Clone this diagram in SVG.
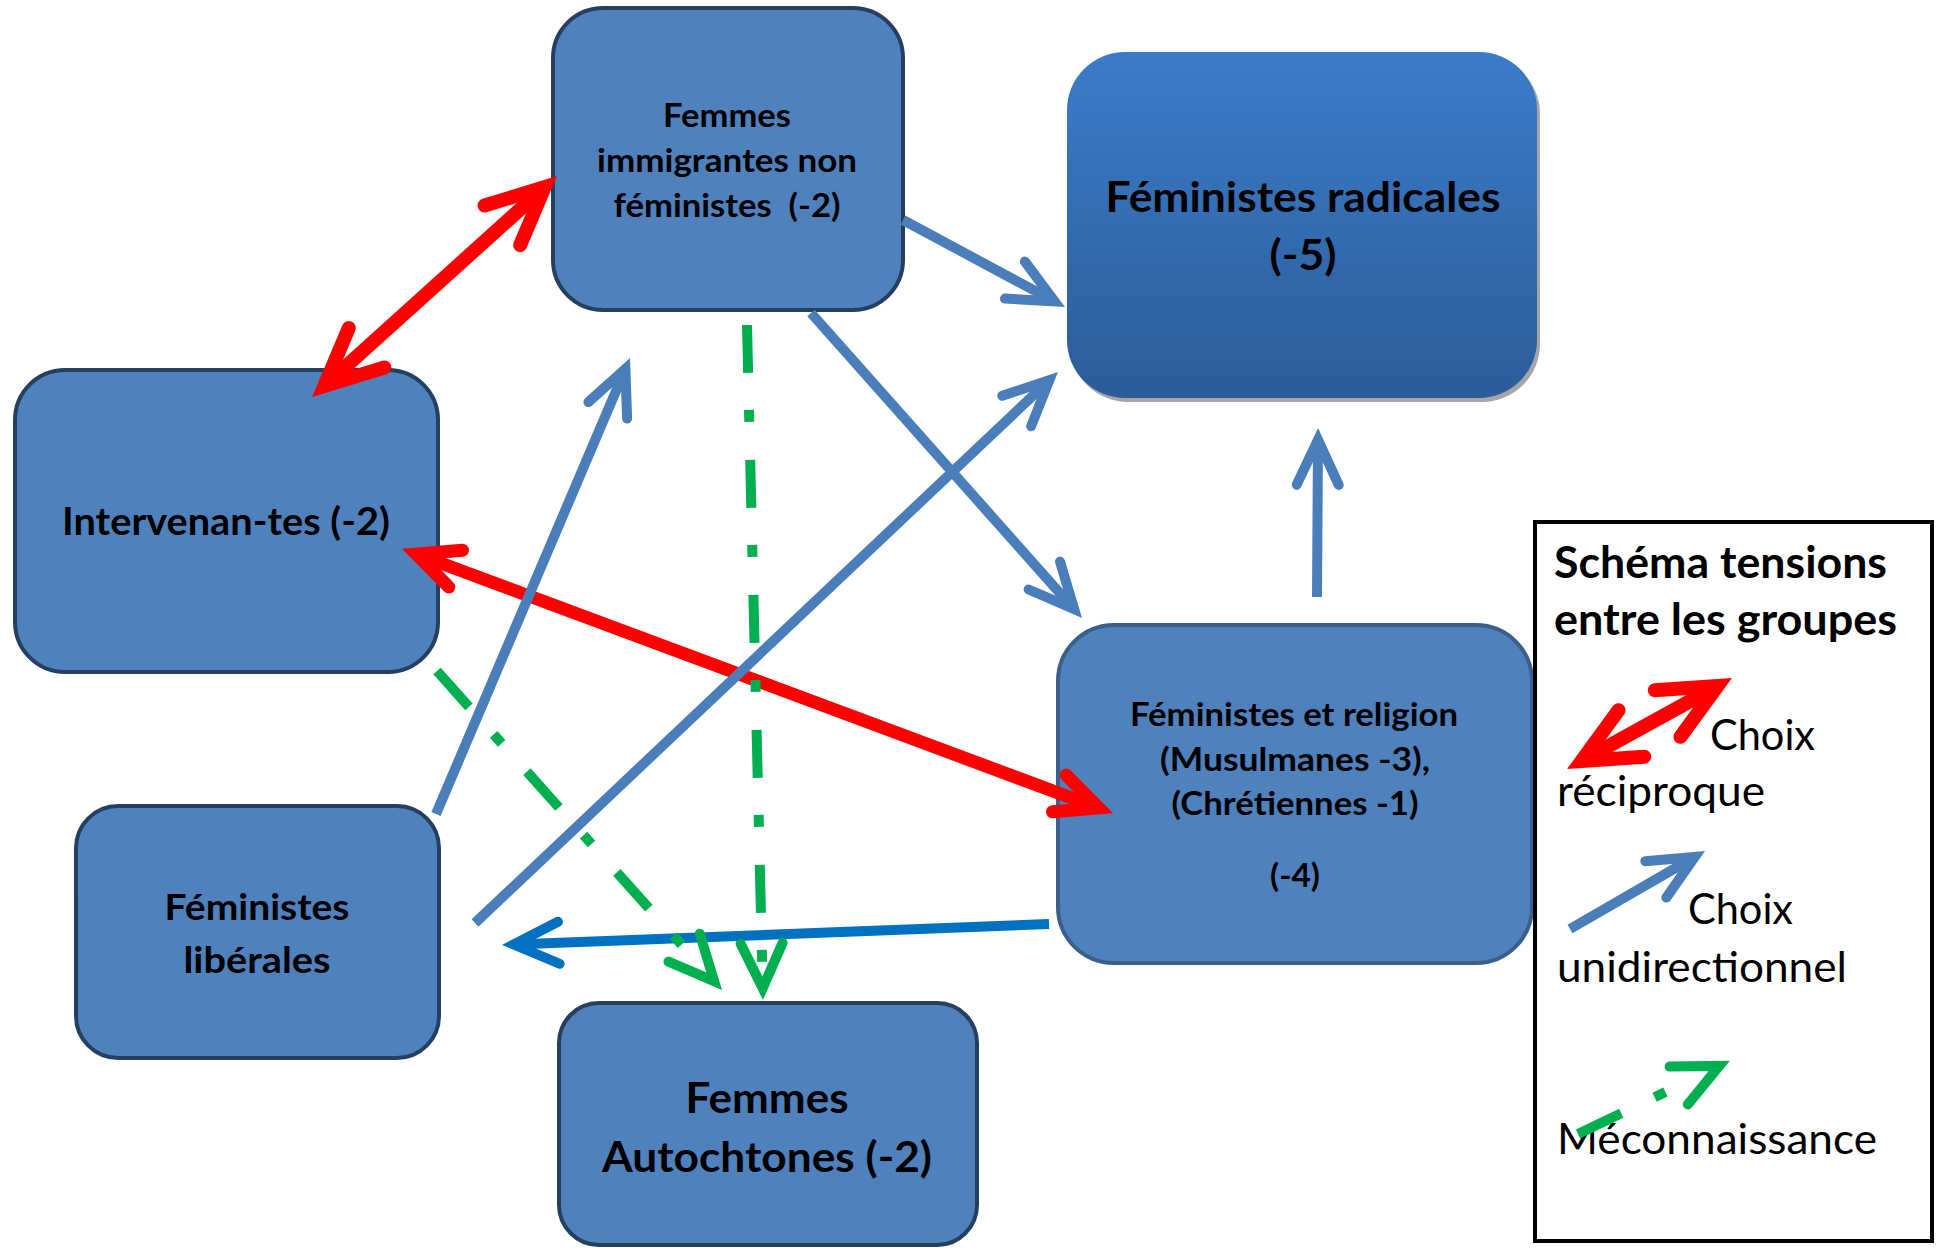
<svg xmlns="http://www.w3.org/2000/svg" width="1936" height="1248" viewBox="0 0 1936 1248">
<style>
.node{fill:#4F81BD;stroke:#243F60;stroke-width:4}
.t{font-family:Lato,"Liberation Sans",sans-serif;font-weight:bold;fill:#000;text-anchor:middle}
.lg{font-family:Lato,"Liberation Sans",sans-serif;fill:#000}
.red{fill:none;stroke:#FF0000}
.blue{fill:none;stroke:#4A7EBB;stroke-width:10}
.dblue{fill:none;stroke:#0070C0;stroke-width:10}
.green{fill:none;stroke:#00B050;stroke-width:10;stroke-dasharray:48 37 12 38}
</style>
<defs>
<linearGradient id="gRad" x1="0" y1="0" x2="0" y2="1">
<stop offset="0" stop-color="#3B7CC9"/>
<stop offset="1" stop-color="#2C5C99"/>
</linearGradient>
<marker id="mRedBig" markerUnits="userSpaceOnUse" orient="auto-start-reverse" refX="0" refY="0" markerWidth="1" markerHeight="1" overflow="visible">
<path d="M-57,-26.6 L0,0 L-57,26.6" fill="none" stroke="#FF0000" stroke-width="14" stroke-linecap="round" stroke-linejoin="miter" stroke-miterlimit="10"/>
</marker>
<marker id="mRed" markerUnits="userSpaceOnUse" orient="auto-start-reverse" refX="0" refY="0" markerWidth="1" markerHeight="1" overflow="visible">
<path d="M-42,-19.6 L0,0 L-42,19.6" fill="none" stroke="#FF0000" stroke-width="13" stroke-linecap="round" stroke-linejoin="miter" stroke-miterlimit="10"/>
</marker>
<marker id="mBlue" markerUnits="userSpaceOnUse" orient="auto" refX="0" refY="0" markerWidth="1" markerHeight="1" overflow="visible">
<path d="M-45,-21 L0,0 L-45,21" fill="none" stroke="#4A7EBB" stroke-width="10" stroke-linecap="round" stroke-linejoin="miter" stroke-miterlimit="10"/>
</marker>
<marker id="mDBlue" markerUnits="userSpaceOnUse" orient="auto" refX="0" refY="0" markerWidth="1" markerHeight="1" overflow="visible">
<path d="M-45,-21 L0,0 L-45,21" fill="none" stroke="#0070C0" stroke-width="10" stroke-linecap="round" stroke-linejoin="miter" stroke-miterlimit="10"/>
</marker>
<marker id="mGreen" markerUnits="userSpaceOnUse" orient="auto" refX="0" refY="0" markerWidth="1" markerHeight="1" overflow="visible">
<path d="M-45,-21 L0,0 L-45,21" fill="none" stroke="#00B050" stroke-width="10" stroke-dasharray="none" stroke-linecap="round" stroke-linejoin="miter" stroke-miterlimit="10"/>
</marker>
</defs>
<rect width="1936" height="1248" fill="#FFFFFF"/>

<g id="node-immigrantes">
<rect class="node" x="553" y="8" width="350" height="302" rx="50"/>
<text class="t" font-size="33"><tspan x="727" y="127" textLength="128" lengthAdjust="spacingAndGlyphs">Femmes</tspan><tspan x="727" y="172" textLength="260" lengthAdjust="spacingAndGlyphs">immigrantes non</tspan><tspan x="727" y="217" textLength="227" lengthAdjust="spacingAndGlyphs">féministes&#160; (-2)</tspan></text>
</g>

<g id="node-radicales">
<rect x="1070" y="56" width="470" height="346" rx="58" fill="#A6A6A6"/>
<rect x="1067" y="52" width="470" height="346" rx="58" fill="url(#gRad)"/>
<text class="t" font-size="42"><tspan x="1303" y="212" textLength="395" lengthAdjust="spacingAndGlyphs">Féministes radicales</tspan><tspan x="1303" y="270" textLength="67" lengthAdjust="spacingAndGlyphs">(-5)</tspan></text>
</g>

<g id="node-intervenantes">
<rect class="node" x="15" y="370" width="423" height="302" rx="50"/>
<text class="t" font-size="38" x="226" y="535" textLength="328" lengthAdjust="spacingAndGlyphs">Intervenan-tes (-2)</text>
</g>

<g id="node-religion">
<rect x="1058" y="625" width="474" height="338" rx="56" fill="#4F81BD" stroke="#3A5F8B" stroke-width="4"/>
<text class="t" font-size="33"><tspan x="1294" y="726" textLength="328" lengthAdjust="spacingAndGlyphs">Féministes et religion</tspan><tspan x="1295" y="771" textLength="270" lengthAdjust="spacingAndGlyphs">(Musulmanes -3),</tspan><tspan x="1295" y="815" textLength="247" lengthAdjust="spacingAndGlyphs">(Chrétiennes -1)</tspan><tspan x="1295" y="887" textLength="50" lengthAdjust="spacingAndGlyphs">(-4)</tspan></text>
</g>

<g id="node-liberales">
<rect class="node" x="76" y="806" width="363" height="252" rx="42"/>
<text class="t" font-size="37"><tspan x="257" y="920" textLength="185" lengthAdjust="spacingAndGlyphs">Féministes</tspan><tspan x="257" y="973" textLength="147" lengthAdjust="spacingAndGlyphs">libérales</tspan></text>
</g>

<g id="node-autochtones">
<rect class="node" x="559" y="1003" width="418" height="242" rx="40"/>
<text class="t" font-size="42"><tspan x="767" y="1113" textLength="163" lengthAdjust="spacingAndGlyphs">Femmes</tspan><tspan x="767" y="1172" textLength="330" lengthAdjust="spacingAndGlyphs">Autochtones (-2)</tspan></text>
</g>

<g id="connectors">
<line class="red" stroke-width="14" x1="324.3" y1="385.9" x2="544.7" y2="187.1" marker-start="url(#mRedBig)" marker-end="url(#mRedBig)"/>
<line class="red" stroke-width="13" x1="416.3" y1="554" x2="1098.7" y2="808" marker-start="url(#mRed)" marker-end="url(#mRed)"/>
<line class="blue" x1="903" y1="220" x2="1054.6" y2="301.4" marker-end="url(#mBlue)"/>
<line class="blue" x1="811" y1="313" x2="1074.2" y2="609.2" marker-end="url(#mBlue)"/>
<line class="blue" x1="475" y1="923" x2="1049.4" y2="380.1" marker-end="url(#mBlue)"/>
<line class="blue" x1="436" y1="814" x2="625.4" y2="368.9" marker-end="url(#mBlue)"/>
<line class="blue" x1="1317" y1="597" x2="1318" y2="439.8" marker-end="url(#mBlue)"/>
<line class="dblue" x1="1049" y1="924" x2="513.8" y2="944.5" marker-end="url(#mDBlue)"/>
<line class="green" x1="747" y1="325" x2="762.7" y2="988.2" marker-end="url(#mGreen)"/>
<line class="green" x1="437" y1="671" x2="714.1" y2="981.2" marker-end="url(#mGreen)"/>
</g>

<g id="legend">
<rect x="1535" y="522" width="397" height="719" fill="#FFFFFF" stroke="#000000" stroke-width="4"/>
<text class="lg" font-size="43" font-weight="bold"><tspan x="1554" y="578" textLength="333" lengthAdjust="spacingAndGlyphs">Schéma tensions</tspan><tspan x="1554" y="635" textLength="343" lengthAdjust="spacingAndGlyphs">entre les groupes</tspan></text>
<line class="red" stroke-width="14" x1="1581.5" y1="761" x2="1717.5" y2="686" marker-start="url(#mRedBig)" marker-end="url(#mRedBig)"/>
<text class="lg" font-size="43" x="1710" y="750" textLength="105" lengthAdjust="spacingAndGlyphs">Choix</text>
<text class="lg" font-size="43" x="1557" y="806" textLength="208" lengthAdjust="spacingAndGlyphs">réciproque</text>
<line class="blue" x1="1570" y1="929" x2="1694.8" y2="856.9" marker-end="url(#mBlue)"/>
<text class="lg" font-size="43" x="1688" y="924" textLength="105" lengthAdjust="spacingAndGlyphs">Choix</text>
<text class="lg" font-size="43" x="1557" y="982" textLength="290" lengthAdjust="spacingAndGlyphs">unidirectionnel</text>
<text class="lg" font-size="43" x="1557" y="1154" textLength="320" lengthAdjust="spacingAndGlyphs">Méconnaissance</text>
<line class="green" style="stroke-dasharray:48 37 12 200" x1="1578" y1="1134" x2="1719.3" y2="1066" marker-end="url(#mGreen)"/>
</g>
</svg>
